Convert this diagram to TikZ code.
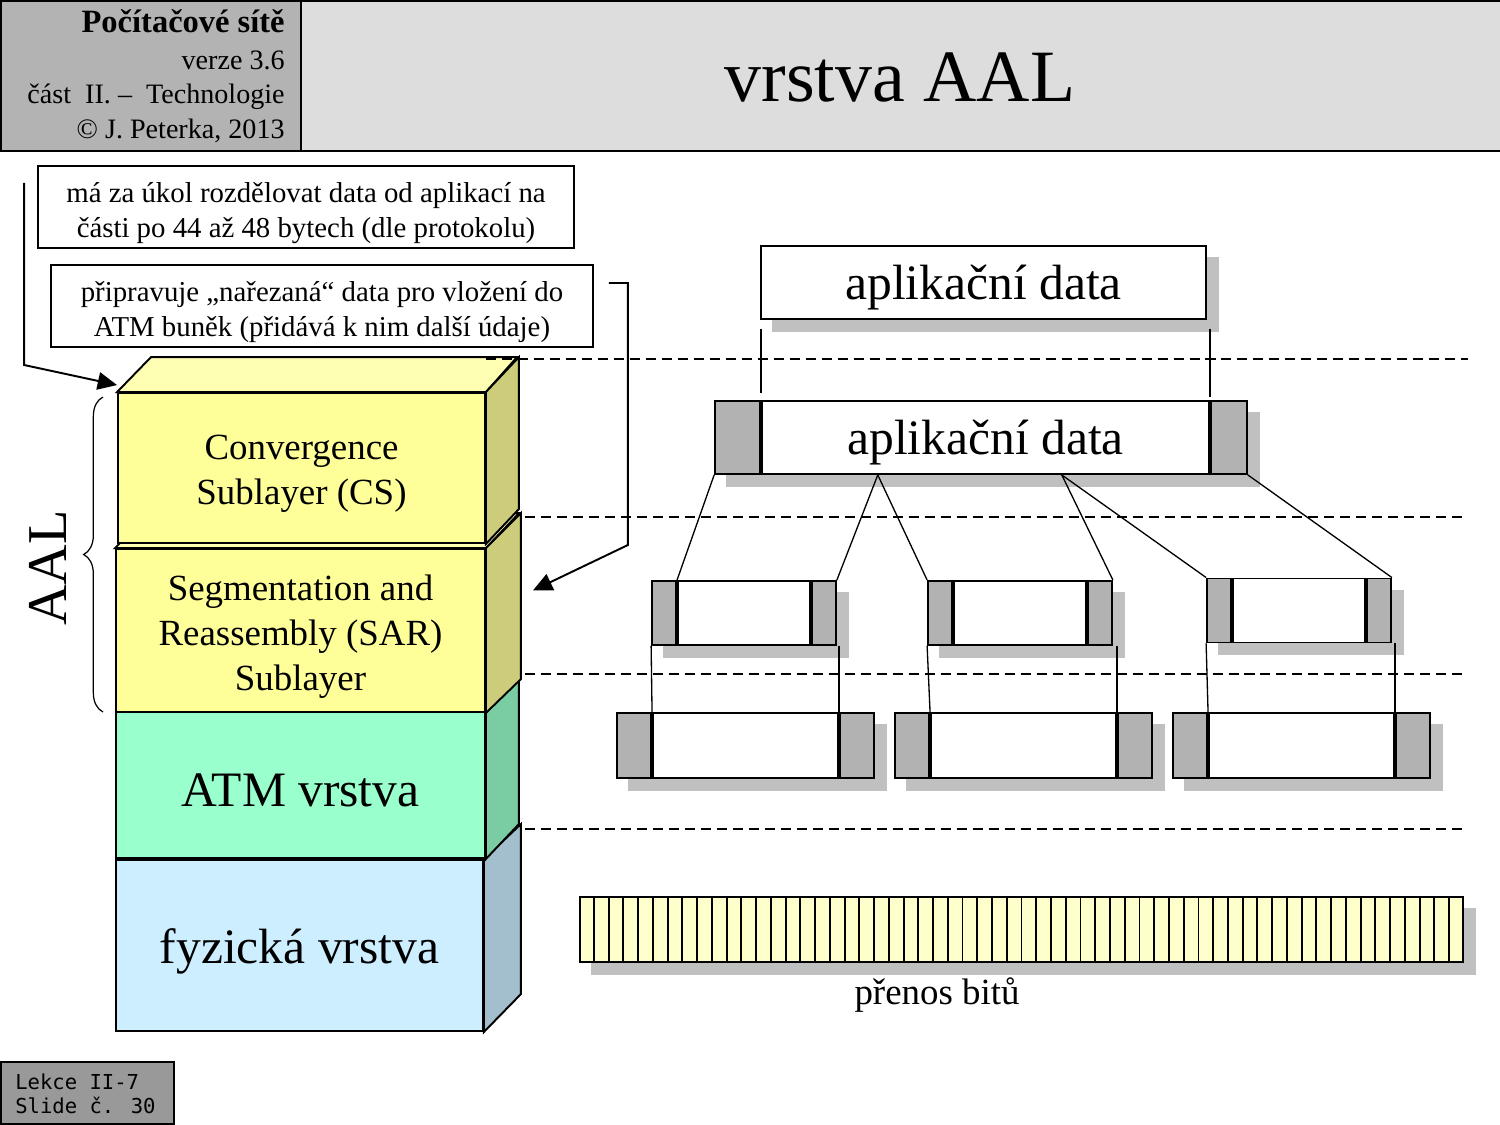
\documentclass[tikz,border=0pt]{standalone}
\usepackage{fontspec}
\setmainfont{Liberation Serif}
\newfontfamily\footfont{DejaVu Sans Mono}
\usetikzlibrary{positioning,calc,arrows.meta,decorations.pathreplacing}

\definecolor{hdrgray}{HTML}{B3B3B3}
\definecolor{titlegray}{HTML}{DDDDDD}
\definecolor{cellgray}{HTML}{B2B2B2}
\definecolor{shadowgray}{HTML}{C0C0C0}
\definecolor{csfront}{HTML}{FFFF99}
\definecolor{cstop}{HTML}{FFFFB3}
\definecolor{csside}{HTML}{CCCC7A}
\definecolor{atmfront}{HTML}{99FFCC}
\definecolor{atmside}{HTML}{7ACCA3}
\definecolor{phyfront}{HTML}{CCEEFF}
\definecolor{physide}{HTML}{A3BECC}
\definecolor{bitfill}{HTML}{FFFFCC}
\definecolor{footgray}{HTML}{999999}

\pgfdeclarelayer{background}
\pgfsetlayers{background,main}

\tikzset{
  boxed/.style={draw, line width=1.1pt, inner sep=0pt},
  note/.style={boxed, fill=white, minimum height=1.64cm},
  notetext/.style={align=center, font=\fontsize{16.4}{19.8}\selectfont},
  slab/.style={boxed},
  slabtext/.style={align=center, font=\fontsize{21}{25.5}\selectfont},
  bigtext/.style={font=\fontsize{28.2}{30}\selectfont},
  pdu/.style={boxed, fill=white},
  pci/.style={boxed, fill=cellgray},
  link/.style={line width=0.75pt},
  guide/.style={line width=1.1pt, dash pattern=on 5.7pt off 3.4pt},
  pointer/.style={line width=1.1pt, -{Triangle[length=11pt,width=10pt]}},
}

\begin{document}
\begin{tikzpicture}[x=0.02cm, y=-0.02cm]
\useasboundingbox (0,0) rectangle (1500,1125);

% Header
\node[boxed, fill=hdrgray, anchor=north west, minimum width=6cm, minimum height=3cm] (hdr) at (0,0) {};
\node[boxed, fill=titlegray, anchor=north west, minimum width=24cm, minimum height=3cm] (title) at (300,0) {};
\node[font=\fontsize{42}{42}\selectfont] (titletext) at (900,78) {vrstva AAL};
\node[anchor=base east, inner sep=0pt, font=\bfseries\fontsize{18.5}{20}\selectfont] (course) at (285,33) {Počítačové sítě};
\node[anchor=base east, inner sep=0pt, font=\fontsize{16}{20}\selectfont] (version) at (285,70) {verze 3.6};
\node[anchor=base east, inner sep=0pt, font=\fontsize{16}{20}\selectfont] (part) at (285,104) {část~~II.~–~~Technologie};
\node[anchor=base east, inner sep=0pt, font=\fontsize{16}{20}\selectfont] (author) at (285,139) {© J. Peterka,~2013};

% Notes
\node[note, minimum width=10.72cm] (task) at (306,207) {};
\node[notetext] (tasktext) at ($(task)+(0,6)$) {má za úkol rozdělovat data od aplikací na\\části po 44 až 48 bytech (dle protokolu)};
\node[note, minimum width=10.84cm] (prep) at (322,306) {};
\node[notetext] (preptext) at ($(prep)+(0,6)$) {připravuje „nařezaná“ data pro vložení do\\ATM buněk (přidává k nim další údaje)};

% Layer stack, bottom first
\node[slab, fill=phyfront, minimum width=7.34cm, minimum height=3.42cm] (phy) at (299.5,945.5) {};
\filldraw[line width=1.1pt, fill=physide] (phy.north east) -- ++(37,-35) -- ++(0,170) -- (phy.south east) -- cycle;
\node[bigtext] (phytext) at ($(phy)+(0,6)$) {fyzická vrstva};

\node[slab, fill=atmfront, minimum width=7.38cm, minimum height=2.92cm] (atm) at (300.5,785) {};
\filldraw[line width=1.1pt, fill=atmside] (atm.north east) -- ++(33,-32) -- ++(0,145) -- (atm.south east) -- cycle;
\node[bigtext] (atmtext) at ($(atm)+(0,5)$) {ATM vrstva};

\node[slab, fill=csfront, minimum width=7.38cm, minimum height=3.26cm] (sar) at (300.5,630.5) {};
\filldraw[line width=1.1pt, fill=cstop] (sar.north west) -- ++(35,-35) -- ++(369,0) -- (sar.north east) -- cycle;
\filldraw[line width=1.1pt, fill=csside] (sar.north east) -- ++(35,-35) -- ++(0,166) -- (sar.south east) -- cycle;
\node[slabtext] (sartext) at ($(sar)+(0,6)$) {Segmentation and\\Reassembly (SAR)\\Sublayer};

\node[slab, fill=csfront, minimum width=7.34cm, minimum height=3cm] (cs) at (301.5,468) {};
\filldraw[line width=1.1pt, fill=cstop] (cs.north west) -- ++(34,-35) -- ++(366,0) -- (cs.north east) -- cycle;
\filldraw[line width=1.1pt, fill=csside] (cs.north east) -- ++(33,-35) -- ++(0,152) -- (cs.south east) -- cycle;
\node[slabtext] (cstext) at ($(cs)+(0,6)$) {Convergence\\Sublayer (CS)};

% AAL brace
\draw[line width=0.7pt, decorate, decoration={brace, amplitude=11pt}] (103,712) -- (103,397);
\node[rotate=90, font=\fontsize{32}{32}\selectfont] (aal) at (48,568) {AAL};

% Pointers from the notes
\draw[pointer] ($(task.west)+(-13,-24)$) -- ++(0,182) -- ($(cs.north west)+(0,-7)$);
\draw[pointer] ($(prep.east)+(15,-23)$) -- ++(19,0) -- ++(0,262) -- ($(sar.east)+(47,-40)$);

% Level guides
\foreach \y/\x in {359/486, 517/525, 674/525, 829/525}
  \draw[guide] (\x,\y) -- (1468,\y);

% Data units
\node[pdu, minimum width=8.9cm, minimum height=1.46cm] (app) at (983.5,282.5) {};
\node[bigtext] (apptext) at ($(app)+(0,5)$) {aplikační data};
\node[pdu, minimum width=8.94cm, minimum height=1.46cm] (cspdu) at (985.5,437.5) {};
\node[bigtext] (cspdutext) at ($(cspdu)+(0,5)$) {aplikační data};
\node[pci, minimum width=0.9cm, minimum height=1.46cm, left=0pt of cspdu] (cshdr) {};
\node[pci, minimum width=0.72cm, minimum height=1.46cm, right=0pt of cspdu] (cstrl) {};

\foreach \name/\x/\y in {sara/744/613, sarb/1020/613, sarc/1299/610.5} {
  \node[pdu, minimum width=2.64cm, minimum height=1.28cm] (\name) at (\x,\y) {};
  \node[pci, minimum width=0.48cm, minimum height=1.28cm, left=0pt of \name] (\name-h) {};
  \node[pci, minimum width=0.48cm, minimum height=1.28cm, right=0pt of \name] (\name-t) {};
}

\foreach \name/\x in {atma/745.5, atmb/1023.5, atmc/1301.5} {
  \node[pdu, minimum width=3.7cm, minimum height=1.3cm] (\name) at (\x,745.5) {};
  \node[pci, minimum width=0.68cm, minimum height=1.3cm, left=0pt of \name] (\name-h) {};
  \node[pci, minimum width=0.68cm, minimum height=1.3cm, right=0pt of \name] (\name-t) {};
}

% Bit stream
\node[boxed, fill=bitfill, minimum width=17.66cm, minimum height=1.3cm] (bits) at (1021.5,929.5) {};
\foreach \i in {1,...,59}
  \draw[line width=1.1pt] ($(bits.north west)!\i/60!(bits.north east)$) -- ($(bits.south west)!\i/60!(bits.south east)$);
\node[font=\fontsize{21}{25}\selectfont] (bitlabel) at (937,995) {přenos bitů};

% Shadows
\begin{pgfonlayer}{background}
\foreach \a/\b in {app/app, cshdr/cstrl, sara-h/sara-t, sarb-h/sarb-t, sarc-h/sarc-t, atma-h/atma-t, atmb-h/atmb-t, atmc-h/atmc-t, bits/bits}
  \fill[shadowgray] ($(\a.north west)+(12,12)$) rectangle ($(\b.south east)+(12,12)$);
\end{pgfonlayer}

% Connectors
\draw[link, shorten <=5pt, shorten >=4pt] (cspdu.north west |- app.south) -- (cspdu.north west);
\draw[link, shorten <=5pt, shorten >=2pt] (cspdu.north east |- app.south) -- (cspdu.north east);

\coordinate (cut1) at ($(cspdu.south west)!0.26!(cspdu.south east)$);
\coordinate (cut2) at ($(cspdu.south west)!0.67!(cspdu.south east)$);
\draw[link] (cshdr.south west) -- (sara.north west);
\draw[link] (cut1) -- (sara-t.north east);
\draw[link] (cut1) -- (sarb-h.north west);
\draw[link] (cut2) -- (sarb-t.north east);
\draw[link] (cut2) -- (sarc-h.north west);
\draw[link] (cstrl.south east) -- (sarc-t.north east);

\draw[link] (sara-h.south west) -- (atma.north west);
\draw[link] (sara-t.south east -| atma.north east) -- (atma.north east);
\draw[link] (sarb-h.south west) -- (atmb.north west);
\draw[link] (sarb-t.south east -| atmb.north east) -- (atmb.north east);
\draw[link] (sarc-h.south west) -- (atmc.north west);
\draw[link] (sarc-t.south east -| atmc.north east) -- (atmc.north east);

% Footer
\node[boxed, fill=footgray, anchor=south west, minimum width=3.46cm, minimum height=1.24cm] (foot) at (0,1125) {};
\node[anchor=west, inner sep=0pt, align=left, font=\footfont\fontsize{11.7}{14}\selectfont] (slide) at (15,1094) {Lekce II-7\\Slide č. 30};

\end{tikzpicture}
\end{document}
